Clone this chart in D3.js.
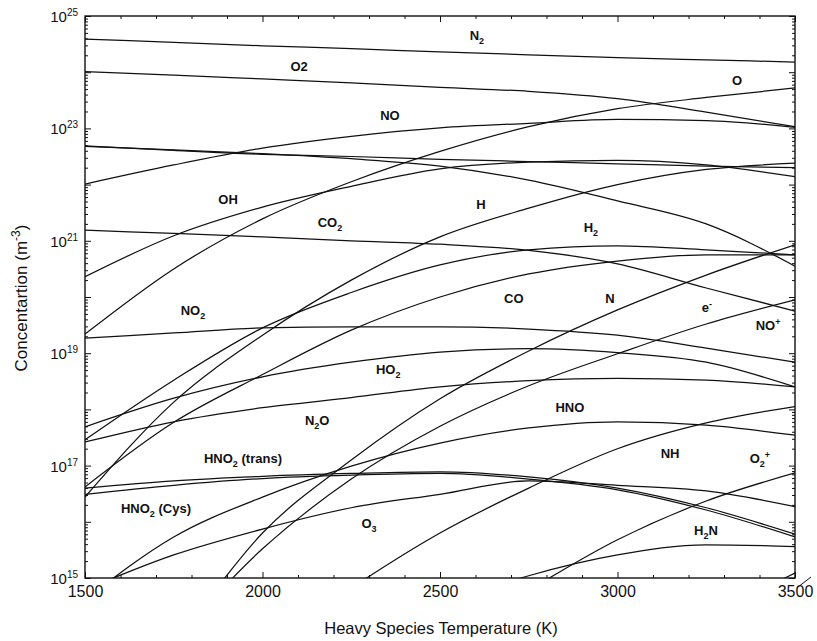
<!DOCTYPE html>
<html>
<head>
<meta charset="utf-8">
<script src="https://cdn.jsdelivr.net/npm/d3@7"></script>
<style>
body { margin: 0; background: #fff; }
text { font-family: Arial, "Liberation Sans", sans-serif; fill: #111; }
</style>
</head>
<body>
<svg width="817" height="641"></svg>
<script>
// temperatures (K) where the curves were read
var temps = [1500, 1750, 2000, 2250, 2500, 2750, 3000, 3250, 3500];

// log10 of concentration (m^-3) at each temperature
var n2    = [24.59, 24.53, 24.47, 24.42, 24.36, 24.31, 24.26, 24.22, 24.18];
var o2    = [24.01, 23.95, 23.88, 23.81, 23.73, 23.66, 23.53, 23.29, 23.03];
var o     = [19.34, 20.50, 21.39, 22.05, 22.59, 23.03, 23.35, 23.55, 23.72];
var no    = [22.01, 22.35, 22.65, 22.86, 23.01, 23.09, 23.16, 23.14, 23.02];
var ar    = [22.69, 22.61, 22.54, 22.50, 22.45, 22.41, 22.37, 22.33, 22.30];
var h2o   = [22.68, 22.62, 22.55, 22.46, 22.33, 22.08, 21.71, 21.30, 20.55];
var oh    = [20.36, 21.09, 21.60, 21.97, 22.28, 22.40, 22.43, 22.35, 22.14];
var co2   = [21.19, 21.13, 21.07, 21.00, 20.94, 20.83, 20.59, 20.16, 19.75];
var h2    = [17.46, 18.52, 19.45, 20.08, 20.57, 20.84, 20.91, 20.84, 20.75];
var h     = [16.44, 18.13, 19.32, 20.30, 21.07, 21.58, 22.00, 22.27, 22.38];
var co    = [16.62, 17.77, 18.62, 19.41, 20.00, 20.41, 20.64, 20.75, 20.75];
var no2   = [19.27, 19.36, 19.45, 19.47, 19.47, 19.43, 19.32, 19.09, 18.84];
var ho2   = [17.69, 18.20, 18.58, 18.84, 19.02, 19.08, 19.01, 18.84, 18.40];
var n2o   = [17.42, 17.78, 18.03, 18.21, 18.40, 18.51, 18.55, 18.52, 18.40];
var hno2t = [16.60, 16.73, 16.81, 16.86, 16.89, 16.80, 16.60, 16.25, 15.78];
var hno2c = [16.49, 16.65, 16.77, 16.83, 16.86, 16.76, 16.57, 16.21, 15.73];
var hno   = [14.61, 15.73, 16.44, 16.99, 17.40, 17.67, 17.78, 17.72, 17.54];
var o3    = [14.79, 15.41, 15.87, 16.25, 16.49, 16.73, 16.65, 16.55, 16.27];
var n     = [11.76, 13.81, 15.80, 17.10, 18.19, 19.04, 19.77, 20.39, 20.93];
var elec  = [12.30, 13.90, 15.52, 16.76, 17.70, 18.42, 18.99, 19.52, 19.95];
var nh    = [11.05, 12.47, 13.72, 14.82, 15.80, 16.60, 17.30, 17.76, 18.05];
var o2p   = [9.27, 10.34, 11.49, 12.74, 13.90, 14.79, 15.68, 16.37, 16.87];
var h2n   = [11.05, 12.47, 13.36, 14.07, 14.52, 15.04, 15.41, 15.59, 15.56];
var other = [null, null, null, null, null, null, 13.19, 14.25, 15.09];

var series = [n2, o2, o, no, ar, h2o, oh, co2, h2, h, co, no2, ho2, n2o,
              hno2t, hno2c, hno, o3, n, elec, nh, o2p, h2n, other];

// curve labels: text (_ = subscript char, ^ = superscript char), position in data units
var labelNames = ['N_2', 'O2', 'NO', 'O', 'OH', 'CO_2', 'H', 'H_2', 'NO_2', 'CO', 'N',
                  'e^-', 'NO^+', 'HO_2', 'N_2O', 'HNO', 'HNO_2 (trans)', 'HNO_2 (Cys)',
                  'NH', 'O_2^+', 'O_3', 'H_2N'];
var labelT = [2604, 2103, 2359, 3337, 1903, 2190, 2615, 2925, 1804, 2708, 2979,
              3252, 3424, 2354, 2154, 2866, 1945, 1700, 3148, 3401, 2300, 3249];
var labelC = [24.66, 24.11, 23.24, 23.86, 21.73, 21.33, 21.64, 21.23, 19.77, 19.98, 19.98,
              19.82, 19.50, 18.72, 17.81, 18.03, 17.13, 16.23, 17.21, 17.13, 15.97, 15.85];

var xMajor = [1500, 2000, 2500, 3000, 3500];
var yLabelled = [15, 17, 19, 21, 23, 25];

var svg = d3.select('svg');
var pLeft = 85, pRight = 795, pTop = 16, pBottom = 578;

var x = d3.scaleLinear().domain([1500, 3500]).range([pLeft, pRight]);
var y = d3.scaleLog().domain([1e15, 1e25]).range([pBottom, pTop]);

function rich(sel, s, size) {
    var shift = 0;
    for (var i = 0; i < s.length; i++) {
        var c = s[i], want = 0, small = false;
        if (c === '_' || c === '^') {
            want = c === '_' ? Math.round(size * 0.3) : -Math.round(size * 0.4);
            small = true;
            c = s[++i];
        }
        var t = sel.append('tspan').text(c).attr('dy', want - shift);
        if (small) t.attr('font-size', Math.round(size * 0.68));
        shift = want;
    }
}

svg.append('clipPath').attr('id', 'plot')
    .append('rect')
    .attr('x', pLeft).attr('y', pTop)
    .attr('width', pRight - pLeft).attr('height', pBottom - pTop);

var line = d3.line()
    .defined(function(d){ return d[1] !== null; })
    .x(function(d){ return x(d[0]); })
    .y(function(d){ return y(Math.pow(10, d[1])); })
    .curve(d3.curveMonotoneX);

svg.append('g')
    .attr('clip-path', 'url(#plot)')
    .selectAll('path')
    .data(series)
    .enter()
    .append('path')
    .attr('d', function(d){
        return line(d.map(function(v, i){ return [temps[i], v]; }));
    })
    .attr('fill', 'none')
    .attr('stroke', '#111')
    .attr('stroke-width', 1.25);

// axes
var xMinor = d3.range(1600, 3500, 100).filter(function(t){ return t % 500 !== 0; });
var yMajor = d3.range(15, 26).map(function(e){ return Math.pow(10, e); });
var yMinor = [];
for (var e = 15; e < 25; e++) {
    for (var k = 2; k < 10; k++) yMinor.push(k * Math.pow(10, e));
}

svg.append('g').attr('transform', 'translate(0,' + pBottom + ')')
    .call(d3.axisBottom(x).tickValues(xMajor).tickFormat(d3.format('d'))
        .tickSizeInner(-6).tickSizeOuter(0).tickPadding(8));
svg.append('g').attr('transform', 'translate(0,' + pBottom + ')')
    .call(d3.axisBottom(x).tickValues(xMinor).tickSize(-3).tickFormat(''));
svg.append('g').attr('transform', 'translate(0,' + pTop + ')')
    .call(d3.axisTop(x).tickValues(xMajor).tickSize(-6).tickFormat(''));
svg.append('g').attr('transform', 'translate(0,' + pTop + ')')
    .call(d3.axisTop(x).tickValues(xMinor).tickSize(-3).tickFormat(''));
svg.append('g').attr('transform', 'translate(' + pLeft + ',0)')
    .call(d3.axisLeft(y).tickValues(yMajor).tickSize(-6).tickFormat(''));
svg.append('g').attr('transform', 'translate(' + pLeft + ',0)')
    .call(d3.axisLeft(y).tickValues(yMinor).tickSize(-3).tickFormat(''));
svg.append('g').attr('transform', 'translate(' + pRight + ',0)')
    .call(d3.axisRight(y).tickValues(yMajor).tickSize(-6).tickFormat(''));
svg.append('g').attr('transform', 'translate(' + pRight + ',0)')
    .call(d3.axisRight(y).tickValues(yMinor).tickSize(-3).tickFormat(''));

svg.selectAll('.domain').remove();
svg.selectAll('.tick line').attr('stroke', '#111');
svg.selectAll('.tick text').attr('font-size', 16).attr('font-family', 'Arial, "Liberation Sans", sans-serif').attr('fill', '#111');

svg.append('rect')
    .attr('x', pLeft).attr('y', pTop)
    .attr('width', pRight - pLeft).attr('height', pBottom - pTop)
    .attr('fill', 'none').attr('stroke', '#111').attr('stroke-width', 1.4);

// y tick labels 10^n
yLabelled.forEach(function(p){
    var t = svg.append('text')
        .attr('x', 78).attr('y', y(Math.pow(10, p)) + 6)
        .attr('text-anchor', 'end').attr('font-size', 15);
    rich(t, '10^' + String(p)[0] + '^' + String(p)[1], 15);
});

// curve labels
labelNames.forEach(function(s, i){
    var t = svg.append('text')
        .attr('x', x(labelT[i]))
        .attr('y', y(Math.pow(10, labelC[i])) + 4.6)
        .attr('text-anchor', 'middle')
        .attr('font-size', 13)
        .attr('font-weight', 'bold');
    rich(t, s, 13);
});

// axis titles
var yt = svg.append('text')
    .attr('transform', 'translate(27,298) rotate(-90)')
    .attr('text-anchor', 'middle')
    .attr('font-size', 17);
rich(yt, 'Concentartion (m^-^3)', 17);

svg.append('text')
    .attr('x', 441).attr('y', 634)
    .attr('text-anchor', 'middle')
    .attr('font-size', 16.5)
    .text('Heavy Species Temperature (K)');

// pen stroke across the last tick label
svg.append('line')
    .attr('x1', x(3505)).attr('y1', pBottom + 10)
    .attr('x2', x(3545)).attr('y2', pBottom - 1)
    .attr('stroke', '#111').attr('stroke-width', 1);
</script>
</body>
</html>
